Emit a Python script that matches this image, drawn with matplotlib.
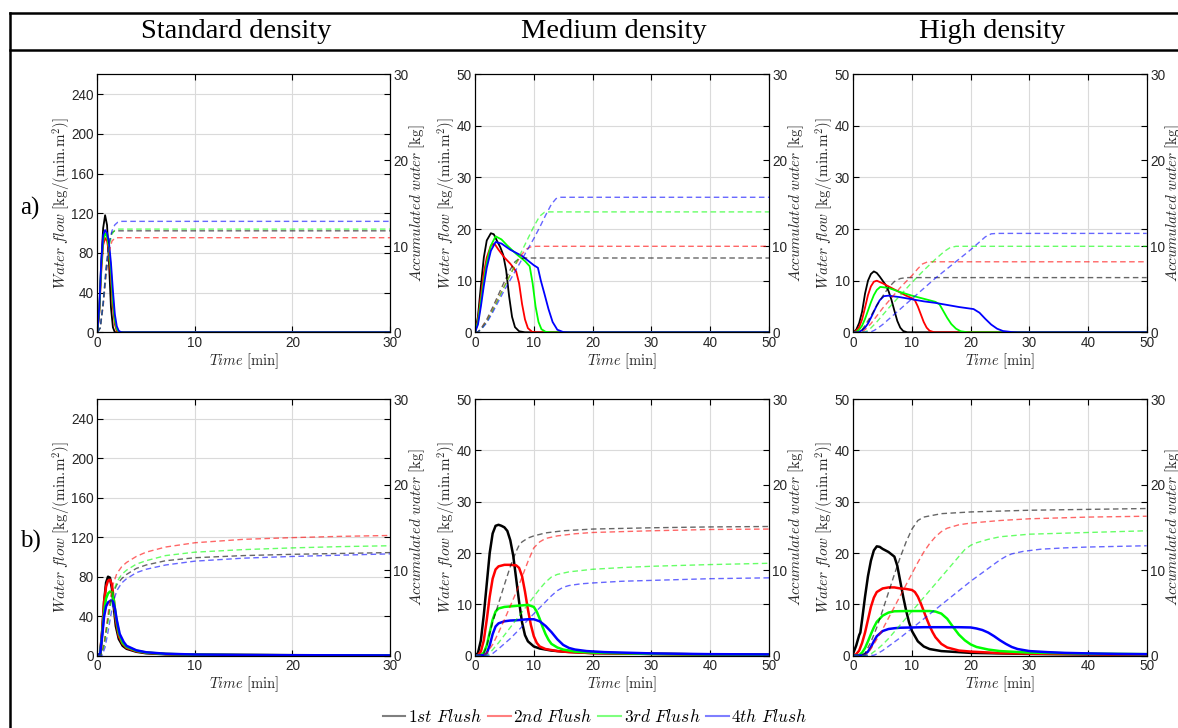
import matplotlib.pyplot as plt
from matplotlib.lines import Line2D

plt.rcParams['font.family'] = ['Liberation Sans', 'DejaVu Sans']
plt.rcParams['mathtext.fontset'] = 'cm'

densities = ['Standard density', 'Medium density', 'High density']
row_names = ['a)', 'b)']
flush_labels = ['$1st\\ Flush$', '$2nd\\ Flush$', '$3rd\\ Flush$', '$4th\\ Flush$']
flush_colors = [(0, 0, 0), (1, 0, 0), (0, 1, 0), (0, 0, 1)]
time_max = [30, 50, 50]
flow_max = [260, 50, 50]
flow_ticks = [[0, 40, 80, 120, 160, 200, 240], [0, 10, 20, 30, 40, 50], [0, 10, 20, 30, 40, 50]]
acc_ticks = [0, 10, 20, 30]

# ---- water flow, solid lines: (time [min], flow [kg/(min.m2)]) ----
# row a, standard density
std_a_flow_1 = [(0, 0), (0.2, 20), (0.4, 70), (0.6, 105), (0.8, 118), (1.0, 108), (1.2, 70), (1.4, 25), (1.6, 5), (1.8, 0), (30, 0)]
std_a_flow_2 = [(0, 0), (0.2, 20), (0.4, 60), (0.6, 88), (0.8, 95), (1.0, 92), (1.2, 80), (1.4, 55), (1.6, 25), (1.8, 8), (2.0, 1), (2.2, 0), (30, 0)]
std_a_flow_3 = [(0, 0), (0.2, 22), (0.4, 65), (0.6, 92), (0.8, 100), (1.0, 96), (1.2, 85), (1.4, 62), (1.6, 32), (1.8, 12), (2.0, 3), (2.2, 0.5), (2.4, 0), (30, 0)]
std_a_flow_4 = [(0, 0), (0.2, 25), (0.4, 70), (0.6, 98), (0.8, 103), (1.0, 100), (1.2, 90), (1.4, 70), (1.6, 42), (1.8, 18), (2.0, 6), (2.2, 1.5), (2.4, 0.3), (2.6, 0), (30, 0)]
# row a, medium density
med_a_flow_1 = [(0, 0), (0.5, 3), (1, 9), (1.5, 14.5), (2, 17.8), (2.7, 19.2), (3.2, 19), (3.7, 17.8), (4.3, 16.5), (4.8, 15), (5.3, 12), (5.8, 7), (6.3, 3), (6.8, 1), (7.5, 0.2), (8.5, 0), (50, 0)]
med_a_flow_2 = [(0, 0), (0.5, 2.5), (1, 7), (1.5, 11.5), (2, 14.5), (2.7, 16.8), (3.3, 17.2), (4, 16), (5, 14.5), (6, 13.3), (7, 11.8), (7.5, 9.5), (8, 5.5), (8.5, 2.5), (9, 0.8), (9.7, 0.1), (10.5, 0), (50, 0)]
med_a_flow_3 = [(0, 0), (0.5, 2), (1, 6), (1.5, 10), (2, 13.5), (2.7, 16.8), (3.5, 18.6), (4.5, 18), (5.5, 16.8), (7, 15.2), (8.5, 13.8), (9.3, 12.8), (9.8, 9.5), (10.3, 5), (10.8, 2), (11.3, 0.6), (12, 0.1), (13, 0), (50, 0)]
med_a_flow_4 = [(0, 0), (0.5, 1.5), (1, 5), (1.5, 9), (2, 12.5), (2.7, 15.8), (3.5, 17.5), (4.5, 17.2), (6, 16), (8, 14.8), (10, 13), (10.7, 12.5), (11.2, 10), (11.8, 7.5), (12.5, 4.5), (13.2, 2), (14, 0.5), (15, 0.05), (16, 0), (50, 0)]
# row a, high density
high_a_flow_1 = [(0, 0), (0.5, 0.5), (1, 1.8), (1.5, 4), (2, 7.5), (2.5, 10), (3, 11.3), (3.5, 11.8), (4, 11.5), (4.5, 10.8), (5, 10), (5.5, 9.2), (6, 8), (6.5, 6.3), (7, 4.2), (7.5, 2.2), (8, 0.9), (8.5, 0.25), (9.2, 0), (50, 0)]
high_a_flow_2 = [(0, 0), (0.5, 0.3), (1, 1), (1.5, 2.5), (2, 4.8), (2.5, 7.2), (3, 8.9), (3.5, 9.8), (4, 10), (5, 9.5), (6, 8.9), (7, 8.3), (8, 7.7), (9, 7.1), (10, 6.6), (10.5, 6.2), (11, 5), (11.5, 3.5), (12, 2), (12.5, 0.9), (13, 0.3), (13.8, 0), (50, 0)]
high_a_flow_3 = [(0, 0), (0.5, 0.1), (1, 0.5), (1.5, 1.3), (2, 2.6), (2.5, 4.2), (3, 5.8), (3.5, 7.2), (4, 8.2), (4.6, 8.8), (6, 8.6), (8, 7.8), (10, 7.1), (12, 6.5), (14, 5.9), (14.7, 5.4), (15.3, 4.2), (16, 2.8), (16.7, 1.6), (17.5, 0.7), (18.3, 0.2), (19.5, 0), (50, 0)]
high_a_flow_4 = [(0, 0), (1, 0.1), (1.5, 0.4), (2, 0.9), (2.5, 1.7), (3, 2.8), (3.5, 4), (4, 5.2), (4.5, 6.2), (5.2, 7), (6, 7.1), (8, 6.8), (10, 6.4), (12, 6.0), (14, 5.7), (16, 5.3), (18, 4.9), (20.5, 4.5), (21.5, 3.8), (22.5, 2.6), (23.5, 1.5), (24.5, 0.7), (25.5, 0.25), (27, 0.05), (28, 0), (50, 0)]
# row b, standard density
std_b_flow_1 = [(0, 0), (0.3, 2), (0.5, 25), (0.7, 55), (0.9, 74), (1.1, 80), (1.3, 79), (1.5, 68), (1.7, 48), (1.9, 30), (2.2, 17), (2.6, 10), (3, 7), (4, 4), (5, 2.5), (7, 1.5), (10, 0.9), (15, 0.6), (20, 0.4), (30, 0.2)]
std_b_flow_2 = [(0, 0), (0.3, 2), (0.5, 25), (0.7, 55), (0.9, 70), (1.1, 76), (1.3, 77), (1.5, 72), (1.7, 56), (1.9, 36), (2.2, 20), (2.6, 12), (3, 8), (4, 4.5), (5, 3), (7, 1.7), (10, 1), (15, 0.7), (20, 0.5), (30, 0.3)]
std_b_flow_3 = [(0, 0), (0.3, 2), (0.5, 22), (0.7, 45), (0.9, 58), (1.1, 63), (1.3, 65), (1.5, 64), (1.7, 56), (1.9, 40), (2.2, 23), (2.6, 13), (3, 9), (4, 5), (5, 3.2), (7, 1.8), (10, 1.1), (15, 0.7), (20, 0.5), (30, 0.3)]
std_b_flow_4 = [(0, 0), (0.3, 2), (0.5, 20), (0.7, 40), (0.9, 50), (1.1, 54), (1.4, 56), (1.6, 55), (1.8, 48), (2, 36), (2.3, 22), (2.7, 14), (3, 10), (4, 5.5), (5, 3.5), (7, 2), (10, 1.2), (15, 0.8), (20, 0.5), (30, 0.3)]
# row b, medium density
med_b_flow_1 = [(0, 0), (0.5, 0.5), (1, 3), (1.5, 8), (2, 14), (2.5, 20), (3, 23.8), (3.5, 25.3), (4, 25.5), (4.5, 25.3), (5, 25), (5.5, 24.3), (6, 22.5), (6.5, 19.5), (7, 15), (7.5, 10.5), (8, 6.5), (8.5, 4), (9, 2.8), (10, 1.8), (11, 1.4), (13, 1), (15, 0.8), (20, 0.5), (30, 0.35), (40, 0.25), (50, 0.2)]
med_b_flow_2 = [(0, 0), (0.5, 0.1), (1, 0.8), (1.5, 3), (2, 7), (2.5, 11.5), (3, 15), (3.5, 16.8), (4, 17.4), (5, 17.7), (6, 17.7), (7, 17.6), (7.5, 17.1), (8, 15.5), (8.5, 12.5), (9, 9), (9.5, 6), (10, 3.8), (10.5, 2.5), (11, 1.8), (12, 1.3), (14, 0.9), (16, 0.7), (20, 0.5), (30, 0.35), (40, 0.25), (50, 0.2)]
med_b_flow_3 = [(0, 0), (1, 0.1), (1.5, 0.6), (2, 2), (2.5, 4.5), (3, 7), (3.5, 8.6), (4, 9.2), (5, 9.5), (6, 9.6), (7, 9.7), (8, 9.8), (9, 9.9), (10, 9.5), (10.5, 8.6), (11, 7.2), (11.5, 5.6), (12, 4.2), (12.5, 3.1), (13, 2.3), (14, 1.6), (15, 1.2), (17, 0.8), (20, 0.6), (30, 0.35), (40, 0.25), (50, 0.2)]
med_b_flow_4 = [(0, 0), (1.5, 0.1), (2, 0.5), (2.5, 2), (3, 4.2), (3.5, 5.7), (4, 6.3), (5, 6.7), (6, 6.85), (7, 6.9), (8, 7), (9, 7.1), (10, 7.1), (11, 6.7), (12, 5.8), (13, 4.6), (14, 3.2), (15, 2.1), (16, 1.5), (17, 1.2), (19, 0.9), (22, 0.7), (30, 0.45), (40, 0.3), (50, 0.25)]
# row b, high density
high_b_flow_1 = [(0, 0.5), (0.5, 2), (1, 4), (1.2, 4.5), (1.5, 7), (2, 11.5), (2.5, 15.5), (3, 18.5), (3.5, 20.5), (4, 21.3), (4.5, 21.2), (5, 20.8), (6, 20.2), (7, 19.3), (7.5, 17.5), (8, 14.5), (8.5, 11.5), (9, 8.8), (9.5, 6.5), (10, 4.8), (11, 2.8), (12, 1.8), (13, 1.3), (15, 0.9), (20, 0.55), (30, 0.35), (40, 0.25), (50, 0.2)]
high_b_flow_2 = [(0, 0), (0.5, 0.3), (1, 1), (1.5, 2.5), (2, 4.5), (2.5, 7), (3, 9.5), (3.5, 11.3), (4, 12.4), (5, 13.1), (6, 13.3), (7, 13.3), (8, 13.1), (9, 13), (10, 12.8), (10.5, 12.4), (11, 11.5), (11.5, 10.2), (12, 8.7), (12.5, 7.2), (13, 5.8), (13.5, 4.6), (14, 3.6), (15, 2.3), (16, 1.6), (18, 1), (20, 0.8), (25, 0.5), (30, 0.4), (40, 0.3), (50, 0.2)]
high_b_flow_3 = [(0, 0), (1, 0.1), (1.5, 0.6), (2, 1.5), (2.5, 2.8), (3, 4.2), (3.5, 5.5), (4, 6.6), (5, 7.8), (6, 8.4), (7, 8.65), (9, 8.7), (11, 8.7), (13, 8.7), (14, 8.6), (15, 8.2), (16, 7.2), (17, 5.6), (18, 4.1), (19, 3), (20, 2.2), (21, 1.7), (23, 1.2), (25, 0.9), (30, 0.6), (40, 0.4), (50, 0.3)]
high_b_flow_4 = [(0, 0), (1.5, 0.05), (2, 0.3), (2.5, 0.8), (3, 1.7), (3.5, 2.8), (4, 3.8), (5, 4.8), (6, 5.2), (7, 5.35), (8, 5.45), (10, 5.5), (12, 5.55), (16, 5.55), (18, 5.55), (20, 5.5), (21, 5.3), (22, 5), (23, 4.5), (24, 3.8), (25, 3), (26, 2.3), (27, 1.7), (28, 1.3), (30, 0.9), (33, 0.7), (36, 0.55), (40, 0.45), (45, 0.35), (50, 0.3)]

# ---- accumulated water, dashed lines: (time [min], water [kg]) ----
std_a_acc_1 = [(0, 0), (0.3, 0.5), (0.6, 3.5), (0.9, 7.5), (1.2, 10.5), (1.5, 11.6), (1.8, 11.8), (30, 11.8)]
std_a_acc_2 = [(0, 0), (0.3, 0.5), (0.6, 3), (0.9, 6.5), (1.2, 9.3), (1.5, 10.6), (1.8, 10.95), (2.1, 11.0), (30, 11.0)]
std_a_acc_3 = [(0, 0), (0.3, 0.5), (0.6, 3.2), (0.9, 7), (1.2, 10), (1.5, 11.4), (1.8, 11.9), (2.1, 12.0), (30, 12.0)]
std_a_acc_4 = [(0, 0), (0.3, 0.5), (0.6, 3.3), (0.9, 7.2), (1.2, 10.3), (1.5, 11.8), (1.8, 12.5), (2.1, 12.8), (2.4, 12.9), (30, 12.9)]
med_a_acc_1 = [(0, 0), (0.5, 0.05), (1, 0.4), (2, 1.5), (3, 2.9), (4, 4.4), (5, 5.9), (6, 7.3), (6.8, 8.2), (7.5, 8.55), (8.5, 8.64), (50, 8.64)]
med_a_acc_2 = [(0, 0), (0.5, 0.05), (1, 0.35), (2, 1.3), (3, 2.6), (4, 4), (5, 5.4), (6, 6.7), (7, 8), (8, 9.1), (8.8, 9.7), (9.6, 9.97), (10.5, 10), (50, 10)]
med_a_acc_3 = [(0, 0), (0.5, 0.05), (1, 0.3), (2, 1.2), (3, 2.5), (4, 3.9), (5, 5.3), (6, 6.7), (7, 8.1), (8, 9.5), (9, 10.9), (10, 12.3), (11, 13.5), (11.8, 13.95), (12.6, 14), (50, 14)]
med_a_acc_4 = [(0, 0), (0.5, 0.05), (1, 0.3), (2, 1.1), (3, 2.3), (4, 3.6), (5, 4.9), (6, 6.1), (7, 7.3), (8, 8.5), (9, 9.7), (10, 10.9), (11, 12.2), (12, 13.6), (13, 14.9), (13.8, 15.55), (14.6, 15.7), (50, 15.7)]
high_a_acc_1 = [(0, 0), (1, 0.05), (1.5, 0.3), (2, 0.8), (3, 1.9), (4, 3.1), (5, 4.2), (6, 5.2), (7, 5.9), (8, 6.25), (9, 6.36), (50, 6.36)]
high_a_acc_2 = [(0, 0), (1.5, 0.05), (2, 0.3), (3, 1), (4, 1.9), (5, 2.8), (6, 3.6), (7, 4.4), (8, 5.2), (9, 5.9), (10, 6.6), (11, 7.4), (11.8, 7.95), (12.7, 8.2), (50, 8.2)]
high_a_acc_3 = [(0, 0), (2, 0.05), (2.5, 0.2), (3, 0.5), (4, 1.2), (5, 2), (6, 2.8), (8, 4.3), (10, 5.8), (12, 7.2), (14, 8.5), (15.5, 9.4), (16.5, 9.85), (17.5, 10), (50, 10)]
high_a_acc_4 = [(0, 0), (3, 0.05), (3.5, 0.2), (4, 0.4), (5, 0.9), (6, 1.5), (8, 2.7), (10, 3.9), (12, 5.1), (14, 6.3), (16, 7.4), (18, 8.5), (20, 9.6), (21.5, 10.5), (22.5, 11.1), (23.5, 11.45), (24.5, 11.5), (50, 11.5)]
std_b_acc_1 = [(0, 0), (0.4, 0.05), (0.7, 1.3), (1, 3.6), (1.3, 5.8), (1.6, 7.3), (2, 8.3), (2.5, 9), (3, 9.5), (4, 10.2), (5, 10.6), (7, 11.1), (10, 11.45), (15, 11.7), (20, 11.85), (25, 11.95), (30, 12.05)]
std_b_acc_2 = [(0, 0), (0.4, 0.05), (0.7, 1.5), (1, 4), (1.3, 6.5), (1.6, 8.3), (2, 9.6), (2.5, 10.4), (3, 10.9), (4, 11.6), (5, 12.1), (7, 12.7), (10, 13.2), (15, 13.6), (20, 13.8), (25, 13.95), (30, 14.05)]
std_b_acc_3 = [(0, 0), (0.4, 0.05), (0.7, 1.2), (1, 3.3), (1.3, 5.5), (1.6, 7.3), (2, 8.6), (2.5, 9.5), (3, 10), (4, 10.7), (5, 11.1), (7, 11.7), (10, 12.1), (15, 12.4), (20, 12.6), (25, 12.75), (30, 12.85)]
std_b_acc_4 = [(0, 0), (0.5, 0.05), (0.8, 1), (1.1, 2.8), (1.4, 4.8), (1.7, 6.5), (2, 7.6), (2.5, 8.5), (3, 9), (4, 9.7), (5, 10.1), (7, 10.6), (10, 11.05), (15, 11.4), (20, 11.6), (25, 11.75), (30, 11.9)]
med_b_acc_1 = [(0, 0), (1, 0.05), (1.5, 0.3), (2, 1.1), (2.5, 2.6), (3, 3.9), (4, 6.1), (5, 8.3), (6, 10.4), (7, 12.2), (7.5, 12.9), (8, 13.3), (9, 13.75), (10, 14), (12, 14.35), (15, 14.6), (20, 14.8), (30, 14.95), (40, 15.05), (50, 15.1)]
med_b_acc_2 = [(0, 0), (1.5, 0.05), (2, 0.3), (3, 1.3), (4, 2.7), (5, 4.2), (6, 5.8), (7, 7.4), (8, 9.2), (9, 11), (10, 12.6), (11, 13.3), (12, 13.7), (14, 14), (17, 14.25), (20, 14.4), (30, 14.6), (40, 14.75), (50, 14.8)]
med_b_acc_3 = [(0, 0), (2, 0.05), (2.5, 0.3), (3, 0.7), (4, 1.5), (5, 2.4), (6, 3.3), (7, 4.2), (8, 5.1), (9, 6), (10, 6.9), (11, 7.8), (12, 8.6), (13, 9.2), (14, 9.5), (16, 9.8), (20, 10.1), (25, 10.3), (30, 10.45), (40, 10.65), (50, 10.8)]
med_b_acc_4 = [(0, 0), (2.5, 0.05), (3, 0.25), (4, 0.8), (5, 1.4), (6, 2), (7, 2.7), (8, 3.4), (9, 4.2), (10, 4.9), (11, 5.6), (12, 6.3), (13, 7), (14, 7.6), (15, 8), (16, 8.2), (18, 8.4), (20, 8.5), (25, 8.7), (30, 8.8), (40, 9), (50, 9.1)]
high_b_acc_1 = [(0, 0), (1.5, 0.05), (2, 0.3), (3, 1.6), (4, 3.3), (5, 5.3), (6, 7.4), (7, 9.5), (8, 11.5), (9, 13.3), (10, 14.8), (11, 15.8), (12, 16.2), (15, 16.6), (20, 16.8), (30, 17), (40, 17.1), (50, 17.2)]
high_b_acc_2 = [(0, 0), (2, 0.05), (2.5, 0.3), (3, 0.8), (4, 1.9), (5, 3.1), (6, 4.4), (7, 5.7), (8, 7), (9, 8.3), (10, 9.6), (11, 10.9), (12, 12.1), (13, 13.1), (14, 13.9), (15, 14.5), (16, 14.9), (18, 15.3), (20, 15.5), (25, 15.8), (30, 16), (40, 16.2), (50, 16.3)]
high_b_acc_3 = [(0, 0), (2.5, 0.05), (3, 0.2), (4, 0.7), (5, 1.3), (6, 2), (8, 3.6), (10, 5.2), (12, 6.8), (14, 8.4), (16, 10), (18, 11.6), (19, 12.4), (20, 12.9), (21, 13.2), (23, 13.6), (25, 13.9), (30, 14.2), (40, 14.4), (50, 14.6)]
high_b_acc_4 = [(0, 0), (3.5, 0.05), (4, 0.2), (5, 0.6), (6, 1.1), (8, 2.1), (10, 3.2), (12, 4.3), (14, 5.4), (16, 6.5), (18, 7.6), (20, 8.7), (22, 9.7), (24, 10.7), (25, 11.2), (26, 11.6), (27, 11.9), (29, 12.2), (32, 12.45), (36, 12.6), (40, 12.7), (50, 12.85)]

flow_data = [
    [[std_a_flow_1, std_a_flow_2, std_a_flow_3, std_a_flow_4],
     [med_a_flow_1, med_a_flow_2, med_a_flow_3, med_a_flow_4],
     [high_a_flow_1, high_a_flow_2, high_a_flow_3, high_a_flow_4]],
    [[std_b_flow_1, std_b_flow_2, std_b_flow_3, std_b_flow_4],
     [med_b_flow_1, med_b_flow_2, med_b_flow_3, med_b_flow_4],
     [high_b_flow_1, high_b_flow_2, high_b_flow_3, high_b_flow_4]],
]
acc_data = [
    [[std_a_acc_1, std_a_acc_2, std_a_acc_3, std_a_acc_4],
     [med_a_acc_1, med_a_acc_2, med_a_acc_3, med_a_acc_4],
     [high_a_acc_1, high_a_acc_2, high_a_acc_3, high_a_acc_4]],
    [[std_b_acc_1, std_b_acc_2, std_b_acc_3, std_b_acc_4],
     [med_b_acc_1, med_b_acc_2, med_b_acc_3, med_b_acc_4],
     [high_b_acc_1, high_b_acc_2, high_b_acc_3, high_b_acc_4]],
]

W, H = 1178, 728
fig = plt.figure(figsize=(W / 100, H / 100), dpi=100)

ax_left = [97.3, 475, 853.3]
ax_width = [292.7, 294, 293.4]
ax_top = [74.3, 399]
ax_height = [258, 256.7]
ylabel_x = [-0.084, -0.059, -0.059]
ink = '#262626'

for r in range(2):
    for c in range(3):
        ax = fig.add_axes([ax_left[c] / W, 1 - (ax_top[r] + ax_height[r]) / H,
                           ax_width[c] / W, ax_height[r] / H])
        ax2 = ax.twinx()
        lw = 1.3 if r == 0 else 1.8
        for k in range(4):
            t = [p[0] for p in flow_data[r][c][k]]
            v = [p[1] for p in flow_data[r][c][k]]
            ax.plot(t, v, color=flush_colors[k], lw=lw)
            t = [p[0] for p in acc_data[r][c][k]]
            v = [p[1] for p in acc_data[r][c][k]]
            ax2.plot(t, v, color=flush_colors[k], lw=1.0, alpha=0.6,
                     linestyle=(0, (4, 2.5)))
        ax.set_xlim(0, time_max[c])
        ax.set_ylim(0, flow_max[c])
        ax.set_yticks(flow_ticks[c])
        ax.set_xticks(range(0, time_max[c] + 1, 10))
        ax2.set_ylim(0, 30)
        ax2.set_yticks(acc_ticks)
        ax.grid(True, color='#dadada', lw=0.8)
        ax.set_axisbelow(True)
        ax.tick_params(direction='in', length=4, top=True, right=True,
                       labelsize=9.8, colors='k', labelcolor=ink, pad=2.5)
        ax2.tick_params(direction='in', length=4, labelsize=9.8,
                        colors='k', labelcolor=ink, pad=2.5)
        ax.set_ylabel(r'$Water\ flow\ [\mathrm{kg/(min.\!m^2)}]$', fontsize=10.8,
                      color=ink)
        ax.yaxis.set_label_coords(ylabel_x[c], 0.5)
        ax2.set_ylabel(r'$Accumulated\ water\ [\mathrm{kg}]$', fontsize=10.8,
                       color=ink)
        ax2.yaxis.set_label_coords(1.058, 0.5)
        ax.set_xlabel(r'$Time\ [\mathrm{min}]$', fontsize=10.5, color=ink,
                      labelpad=1)

# table frame of the figure
fig.add_artist(Line2D([10 / W, 1], [1 - 13 / H, 1 - 13 / H], color='k', lw=1.8))
fig.add_artist(Line2D([10 / W, 1], [1 - 49.5 / H, 1 - 49.5 / H], color='k', lw=1.8))
fig.add_artist(Line2D([10 / W, 10 / W], [1 - 13 / H, 0], color='k', lw=1.8))

title_x = [236, 614, 992]
for c in range(3):
    fig.text(title_x[c] / W, 1 - 31 / H, densities[c], ha='center', va='center',
             family='Liberation Serif', fontsize=20.5, color='k')
row_y = [208, 541]
for r in range(2):
    fig.text(30 / W, 1 - row_y[r] / H, row_names[r], ha='center', va='center',
             family='Liberation Serif', fontsize=18, color='k')

handles = [Line2D([], [], color=col, alpha=0.5, lw=1.5) for col in flush_colors]
fig.legend(handles, flush_labels, loc='center', bbox_to_anchor=(595 / W, 1 - 717 / H),
           ncol=4, frameon=False, fontsize=12.5, handlelength=1.3,
           handletextpad=0.15, columnspacing=0.35)

fig.savefig('out.png', dpi=100)
